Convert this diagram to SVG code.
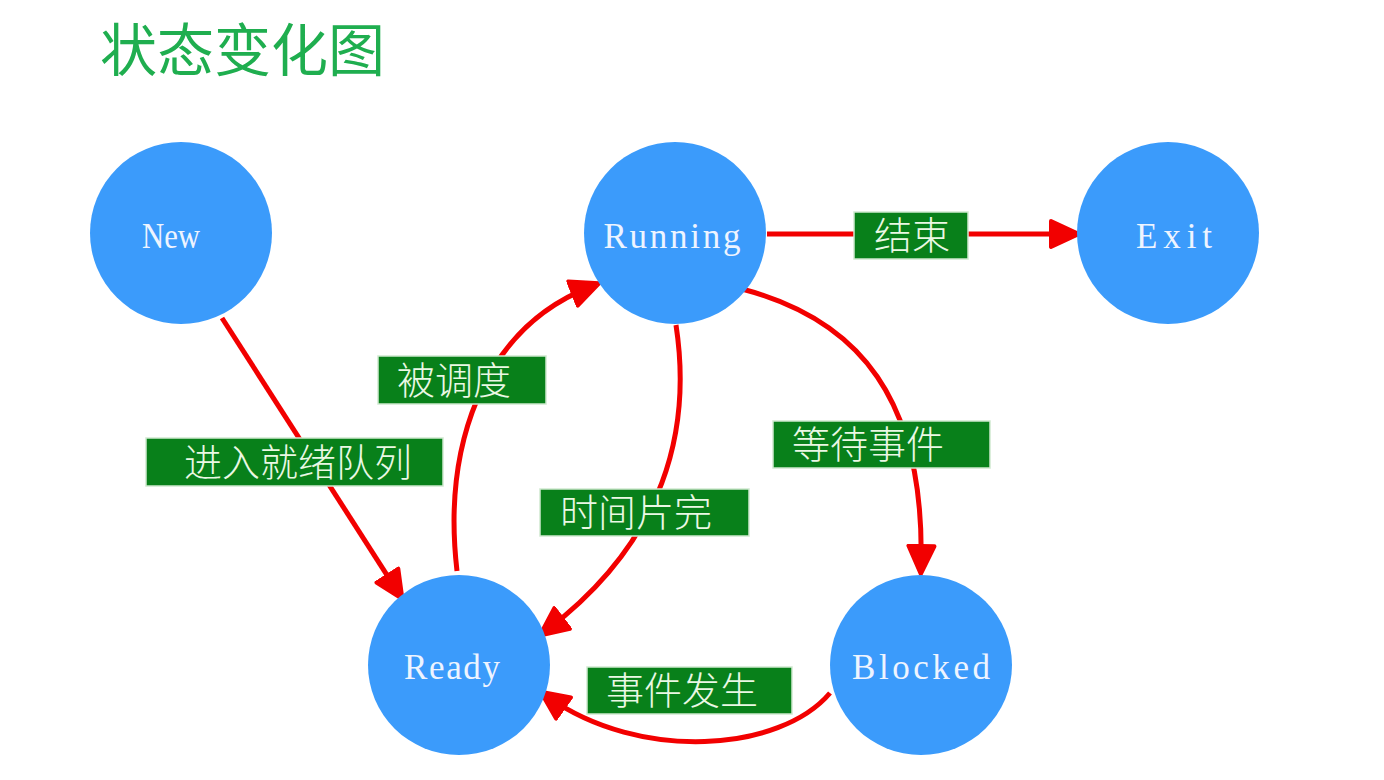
<svg xmlns="http://www.w3.org/2000/svg" width="1384" height="780" viewBox="0 0 1384 780">
<style>
.node{fill:#3b9bfb}
.nlabel{font-family:"Liberation Serif","DejaVu Serif",serif;font-size:35px;fill:#eef4ff}
.edge{fill:none;stroke:#f20000;stroke-width:5}
.lbox{fill:#08801a;stroke:#cfe9cf;stroke-width:1.5}
.ltext{font-family:"Noto Sans CJK SC","Noto Sans",sans-serif;font-size:38px;font-weight:300;fill:#eaf8e4}
.title{font-family:"Noto Sans CJK SC","Noto Sans",sans-serif;font-size:57px;fill:#1fae4f}
</style>
<defs>
<marker id="arrow" viewBox="0 0 34 32" markerWidth="34" markerHeight="32" refX="21" refY="16" orient="auto" markerUnits="userSpaceOnUse">
<path d="M2,3 L30,16 L2,29 Z" fill="#f20000" stroke="#f20000" stroke-width="4" stroke-linejoin="round"/>
</marker>
</defs>
<rect width="1384" height="780" fill="#ffffff"/>
<text class="title" x="100" y="71">状态变化图</text>

<g id="connectors">
<path id="e-new-ready" class="edge" d="M222,318 L397.6,591.6" marker-end="url(#arrow)"/>
<path id="e-ready-running" class="edge" d="M457,571 C443,450 480,330 590.7,286.6" marker-end="url(#arrow)"/>
<path id="e-running-ready" class="edge" d="M676,325 C692,430 665,540 547,630" marker-end="url(#arrow)"/>
<path id="e-running-exit" class="edge" d="M767,234 L1070,234" marker-end="url(#arrow)"/>
<path id="e-running-blocked" class="edge" d="M742,289 C860,320 925,400 921,565" marker-end="url(#arrow)"/>
<path id="e-blocked-ready" class="edge" d="M830,693 C780,752 640,762 548,697" marker-end="url(#arrow)"/>
</g>

<g id="node-new">
<circle class="node" cx="181" cy="233" r="91"/>
<text class="nlabel" x="171" y="248" text-anchor="middle" textLength="58" lengthAdjust="spacingAndGlyphs">New</text>
</g>
<g id="node-running">
<circle class="node" cx="675" cy="233" r="91"/>
<text class="nlabel" x="672" y="248" text-anchor="middle" textLength="137" lengthAdjust="spacing">Running</text>
</g>
<g id="node-exit">
<circle class="node" cx="1168" cy="233" r="91"/>
<text class="nlabel" x="1174" y="248" text-anchor="middle" textLength="76" lengthAdjust="spacing">Exit</text>
</g>
<g id="node-ready">
<ellipse class="node" cx="459" cy="665" rx="91" ry="90"/>
<text class="nlabel" x="452" y="679" text-anchor="middle" textLength="96" lengthAdjust="spacing">Ready</text>
</g>
<g id="node-blocked">
<ellipse class="node" cx="921" cy="665" rx="91" ry="90"/>
<text class="nlabel" x="921" y="679" text-anchor="middle" textLength="138" lengthAdjust="spacing">Blocked</text>
</g>

<g id="label-end">
<rect class="lbox" x="854" y="212" width="114" height="47"/>
<text class="ltext" x="874" y="249">结束</text>
</g>
<g id="label-scheduled">
<rect class="lbox" x="378" y="356" width="168" height="48"/>
<text class="ltext" x="397" y="394">被调度</text>
</g>
<g id="label-enter-queue">
<rect class="lbox" x="146" y="438" width="297" height="48"/>
<text class="ltext" x="184" y="476">进入就绪队列</text>
</g>
<g id="label-wait-event">
<rect class="lbox" x="773" y="421" width="217" height="47"/>
<text class="ltext" x="792" y="458">等待事件</text>
</g>
<g id="label-timeslice">
<rect class="lbox" x="540" y="489" width="209" height="47"/>
<text class="ltext" x="560" y="526">时间片完</text>
</g>
<g id="label-event-occur">
<rect class="lbox" x="587" y="667" width="205" height="47"/>
<text class="ltext" x="606" y="704">事件发生</text>
</g>
</svg>
